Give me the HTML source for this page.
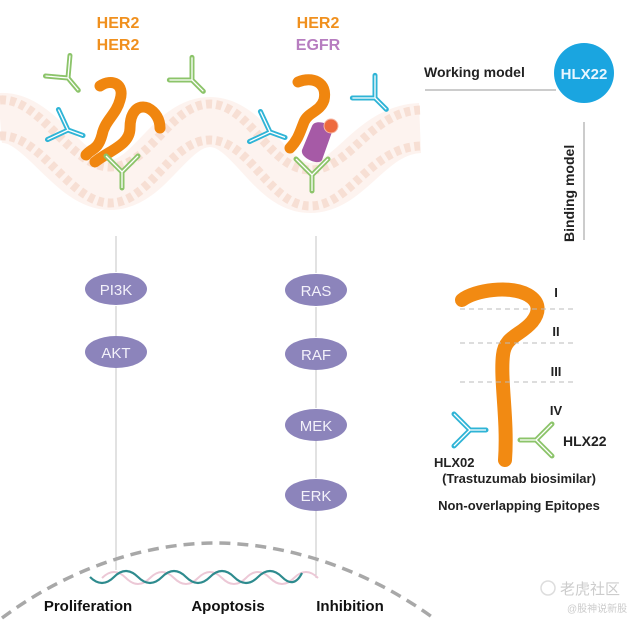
<!DOCTYPE html>
<html><head><meta charset="utf-8"><style>
html,body{margin:0;padding:0;background:#fff;}
svg{display:block;}
text{font-family:"Liberation Sans",sans-serif;}
</style></head><body>
<svg width="640" height="625" viewBox="0 0 640 625" xmlns="http://www.w3.org/2000/svg">
<defs>
<g id="abg">
 <path d="M0,0 L0,16 M0,0 L-12,-12 M0,0 L12,-12 M-6,-6 L-16,-16 M6,-6 L16,-16" stroke="#8cc46a" stroke-width="5" fill="none" stroke-linecap="round"/>
 <path d="M0,0 L0,16 M0,0 L-12,-12 M0,0 L12,-12 M-6,-6 L-16,-16 M6,-6 L16,-16" stroke="#fff" stroke-width="1.3" fill="none"/>
</g>
<g id="abb">
 <path d="M0,0 L0,16 M0,0 L-12,-12 M0,0 L12,-12 M-6,-6 L-16,-16 M6,-6 L16,-16" stroke="#2fb4d6" stroke-width="5" fill="none" stroke-linecap="round"/>
 <path d="M0,0 L0,16 M0,0 L-12,-12 M0,0 L12,-12 M-6,-6 L-16,-16 M6,-6 L16,-16" stroke="#fff" stroke-width="1.3" fill="none"/>
</g>
</defs>
<!-- membrane -->
<path d="M0,118 C40,115 70,185 110,185 C150,185 170,122 210,122 C250,122 270,188 310,188 C350,188 370,130 420,128" stroke="#fdf3ef" stroke-width="50" fill="none"/>
<path d="M0,100 C40,97 70,167 110,167 C150,167 170,104 210,104 C250,104 270,170 310,170 C350,170 370,112 420,110" stroke="#f7dfd4" stroke-width="9" stroke-dasharray="6 4" fill="none"/>
<path d="M0,136 C40,133 70,203 110,203 C150,203 170,140 210,140 C250,140 270,206 310,206 C350,206 370,148 420,146" stroke="#f7dfd4" stroke-width="9" stroke-dasharray="6 4" fill="none"/>
<!-- HER2 labels -->
<text x="118" y="28" font-size="16" font-weight="bold" fill="#f0901e" text-anchor="middle">HER2</text>
<text x="118" y="50" font-size="16" font-weight="bold" fill="#f0901e" text-anchor="middle">HER2</text>
<text x="318" y="28" font-size="16" font-weight="bold" fill="#f0901e" text-anchor="middle">HER2</text>
<text x="318" y="50" font-size="16" font-weight="bold" fill="#b77dc0" text-anchor="middle">EGFR</text>
<!-- left dimer -->
<path d="M100,86 C112,78 125,84 120,100 C116,115 105,120 102,135 C98,150 92,148 86,155" stroke="#f0860f" stroke-width="11" fill="none" stroke-linecap="round"/>
<path d="M95,162 C110,150 130,145 130,128 C130,112 138,104 148,108 C156,112 160,120 160,128" stroke="#f0860f" stroke-width="11" fill="none" stroke-linecap="round"/>
<use href="#abg" transform="translate(68,78) rotate(-40)"/>
<use href="#abg" transform="translate(192,80) rotate(-45)"/>
<use href="#abb" transform="translate(68,130) rotate(-70)"/>
<use href="#abg" transform="translate(122,172)"/>
<!-- right -->
<path d="M298,82 C312,76 328,82 324,100 C320,112 308,112 304,122 C300,132 298,140 290,148" stroke="#f0860f" stroke-width="11" fill="none" stroke-linecap="round"/>
<path d="M302,150 L312,126 C315,118 334,124 332,132 L322,160 C319,166 300,158 302,150 Z" fill="#a65aa6"/>
<circle cx="331" cy="126" r="7" fill="#ee6a3e" stroke="#f6b7a4" stroke-width="1"/>
<use href="#abb" transform="translate(270,132) rotate(-70)"/>
<use href="#abb" transform="translate(375,98) rotate(-45)"/>
<use href="#abg" transform="translate(312,175)"/>
<!-- pathway lines -->
<g stroke="#c4c4c4" stroke-width="1">
<line x1="116" y1="236" x2="116" y2="272"/><line x1="116" y1="306" x2="116" y2="336"/><line x1="116" y1="368" x2="116" y2="570"/>
<line x1="316" y1="236" x2="316" y2="273"/><line x1="316" y1="307" x2="316" y2="337"/><line x1="316" y1="370" x2="316" y2="408"/><line x1="316" y1="441" x2="316" y2="478"/><line x1="316" y1="511" x2="316" y2="578"/>
</g>
<g fill="#8c84bb">
<ellipse cx="116" cy="289" rx="31" ry="16"/><ellipse cx="116" cy="352" rx="31" ry="16"/>
<ellipse cx="316" cy="290" rx="31" ry="16"/><ellipse cx="316" cy="354" rx="31" ry="16"/>
<ellipse cx="316" cy="425" rx="31" ry="16"/><ellipse cx="316" cy="495" rx="31" ry="16"/>
</g>
<g fill="#f3f1fa" font-size="15" text-anchor="middle">
<text x="116" y="295">PI3K</text><text x="116" y="358">AKT</text>
<text x="316" y="296">RAS</text><text x="316" y="360">RAF</text>
<text x="316" y="431">MEK</text><text x="316" y="501">ERK</text>
</g>
<!-- nucleus arc -->
<path d="M2,618 C80,560 160,543 215,543 C280,543 360,565 432,617" stroke="#a8a8a8" stroke-width="3.5" stroke-dasharray="11 7" fill="none"/>
<!-- DNA -->
<path d="M90,578 q12,-12 24,0 t24,0 t24,0 t24,0 t24,0 t24,0 t24,0 t24,0 t24,0" stroke="#ecc8d6" stroke-width="2" fill="none" transform="translate(12,0)"/>
<path d="M90,578 q12,12 24,0 t24,0 t24,0 t24,0 t24,0 t24,0 t24,0 t24,0 t20,-4" stroke="#2e8b8e" stroke-width="2.2" fill="none" transform="translate(0,-1)"/>
<g font-size="15" font-weight="bold" fill="#111" text-anchor="middle">
<text x="88" y="611">Proliferation</text><text x="228" y="611">Apoptosis</text><text x="350" y="611">Inhibition</text>
</g>
<!-- HLX22 top right -->
<text x="424" y="77" font-size="14" font-weight="bold" fill="#222">Working model</text>
<line x1="425" y1="90" x2="556" y2="90" stroke="#999" stroke-width="1"/>
<circle cx="584" cy="73" r="30" fill="#1aa5e0"/>
<text x="584" y="79" font-size="15" font-weight="bold" fill="#e8f6ff" text-anchor="middle">HLX22</text>
<text transform="translate(574,242) rotate(-90)" font-size="14" font-weight="bold" fill="#222">Binding model</text>
<line x1="584" y1="122" x2="584" y2="240" stroke="#999" stroke-width="1"/>
<!-- right HER2 -->
<path d="M462,300 C475,290 510,285 528,295 C540,302 540,312 532,322 C520,336 505,336 503,355 C500,380 508,420 505,460" stroke="#f28a12" stroke-width="14" fill="none" stroke-linecap="round"/>
<g stroke="#bbb" stroke-width="1" stroke-dasharray="5 4">
<line x1="460" y1="309" x2="576" y2="309"/><line x1="460" y1="343" x2="576" y2="343"/><line x1="460" y1="382" x2="576" y2="382"/>
</g>
<g font-size="13" font-weight="bold" fill="#222" text-anchor="middle">
<text x="556" y="297">I</text><text x="556" y="336">II</text><text x="556" y="376">III</text><text x="556" y="415">IV</text>
</g>
<use href="#abb" transform="translate(470,430) rotate(-90)"/>
<use href="#abg" transform="translate(536,440) rotate(90)"/>
<text x="563" y="446" font-size="14" font-weight="bold" fill="#222">HLX22</text>
<text x="434" y="467" font-size="13" font-weight="bold" fill="#222">HLX02</text>
<text x="519" y="483" font-size="13" font-weight="bold" fill="#222" text-anchor="middle">(Trastuzumab biosimilar)</text>
<text x="519" y="510" font-size="13" font-weight="bold" fill="#222" text-anchor="middle">Non-overlapping Epitopes</text>
<!-- watermark -->
<circle cx="548" cy="588" r="7" fill="none" stroke="#ddd" stroke-width="1.5"/>
<text x="560" y="594" font-size="15" fill="#ccc" font-family="Liberation Sans, Noto Sans CJK SC, sans-serif">老虎社区</text>
<text x="567" y="612" font-size="10" fill="#ccc" font-family="Liberation Sans, Noto Sans CJK SC, sans-serif">@股神说新股</text>
</svg>
</body></html>
